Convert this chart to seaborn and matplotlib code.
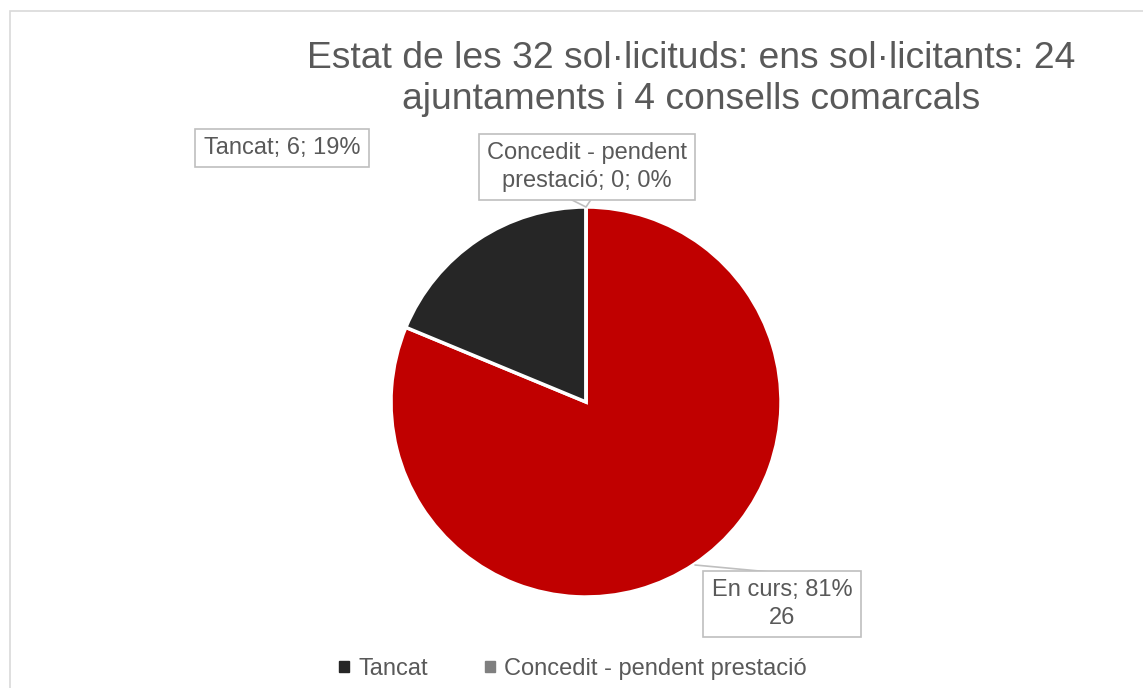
import matplotlib
matplotlib.use('Agg')
import matplotlib.pyplot as plt
import matplotlib.patches as mpatches
from matplotlib.lines import Line2D
import seaborn as sns

categories = ['En curs', 'Tancat', 'Concedit - pendent prestació']
values = [26, 6, 0]
percents = ['81%', '19%', '0%']
colors = ['#C00000', '#262626', '#7F7F7F']
title = 'Estat de les 32 sol·licituds: ens sol·licitants: 24\najuntaments i 4 consells comarcals'

sns.set_theme(style='white')
plt.rcParams['font.family'] = ['Liberation Sans', 'DejaVu Sans']

W, H = 1143, 688
fig = plt.figure(figsize=(W / 100, H / 100), dpi=100)
fig.patch.set_facecolor('white')

def fx(px):
    return px / W

def fy(py):
    return 1 - py / H

# chart area border (cut off on the right and bottom)
fig.patches.append(mpatches.Rectangle((fx(10), fy(700)), fx(1200), (700 - 11) / H,
                                      transform=fig.transFigure, fill=False,
                                      edgecolor='#D9D9D9', linewidth=1.2))

# pie
cx, cy, r = 586, 402, 195
ax = fig.add_axes([fx(cx - r), fy(cy + r), 2 * r / W, 2 * r / H])
ax.pie(values, colors=colors, startangle=90, counterclock=False, radius=1,
       wedgeprops=dict(edgecolor='white', linewidth=2.5))
ax.set_xlim(-1, 1)
ax.set_ylim(-1, 1)
ax.axis('off')

fig.text(fx(691), fy(79), title, va='center', ha='center',
         fontsize=26.8, color='#595959', linespacing=1.22)

box = dict(boxstyle='square,pad=0.35', facecolor='white', edgecolor='#BFBFBF', linewidth=1.2)
lab_col = '#595959'

fig.text(fx(282), fy(148), f'{categories[1]}; {values[1]}; {percents[1]}',
         ha='center', va='center', fontsize=17, color=lab_col, bbox=box)
fig.text(fx(587), fy(167), 'Concedit - pendent\nprestació; 0; 0%',
         ha='center', va='center', fontsize=17, color=lab_col, bbox=box,
         linespacing=1.3)
fig.text(fx(782), fy(604), f'{categories[0]}; {percents[0]}\n{values[0]}',
         ha='center', va='center', fontsize=17, color=lab_col, bbox=box,
         linespacing=1.3, zorder=3)

# callout pointer and leader line
fig.lines.append(Line2D([fx(568), fx(586), fx(592)], [fy(198), fy(207), fy(198)],
                        transform=fig.transFigure, color='#BFBFBF', linewidth=1.2))
fig.lines.append(Line2D([fx(695), fx(770)], [fy(565), fy(572)],
                        transform=fig.transFigure, color='#BFBFBF', linewidth=1.2))

handles = [mpatches.Patch(color=colors[i]) for i in (1, 2)]
fig.legend(handles, [categories[1], categories[2]], loc='center',
           bbox_to_anchor=(fx(573), fy(669)), ncol=2, frameon=False,
           fontsize=17, labelcolor=lab_col, handlelength=0.42, handleheight=0.3,
           handletextpad=0.4, columnspacing=2.4)

fig.savefig('out.png', dpi=100, facecolor='white')
